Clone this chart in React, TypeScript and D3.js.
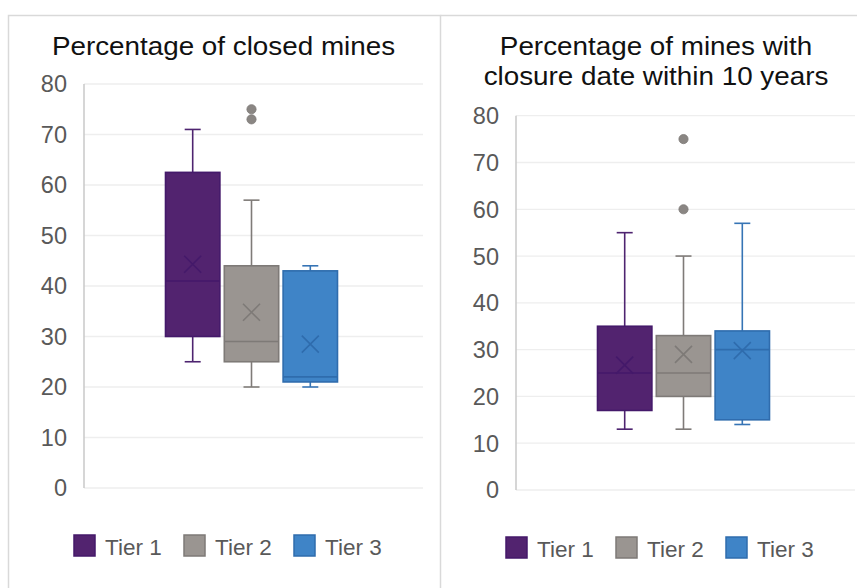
import React from "react";
import * as d3 from "d3";

const tiers = ["Tier 1", "Tier 2", "Tier 3"];
const yTicks = [0, 10, 20, 30, 40, 50, 60, 70, 80];

// Chart 1: Percentage of closed mines
const closedLow = [25, 20, 20];
const closedQ1 = [30, 25, 21];
const closedMedian = [41, 29, 22];
const closedQ3 = [62.5, 44, 43];
const closedHigh = [71, 57, 44];
const closedMean = [44.3, 34.8, 28.5];
const closedOutliers = [[], [75, 73], []];

// Chart 2: Percentage of mines with closure date within 10 years
const soonLow = [13, 13, 14];
const soonQ1 = [17, 20, 15];
const soonMedian = [25, 25, 30];
const soonQ3 = [35, 33, 34];
const soonHigh = [55, 50, 57];
const soonMean = [26.7, 29, 29.8];
const soonOutliers = [[], [75, 60], []];

const fills = ["#52236f", "#9a9591", "#3f84c7"];
const strokes = ["#44196a", "#7e7a77", "#2f6cad"];
const whiskerColors = ["#4e2470", "#7f7b78", "#3674b5"];
const outlierFill = "#8a8683";

const FONT = "'Liberation Sans', Arial, sans-serif";

type PanelProps = {
  title: string[];
  titleX: number;
  titleY: number;
  x0: number;
  x1: number;
  yTop: number;
  yBottom: number;
  low: number[];
  q1: number[];
  median: number[];
  q3: number[];
  high: number[];
  mean: number[];
  outliers: number[][];
  legendX: number;
  legendY: number;
};

function Panel(p: PanelProps) {
  const y = d3.scaleLinear().domain([0, 80]).range([p.yBottom, p.yTop]);
  const cx = (p.x0 + p.x1) / 2 - 2;
  const x = d3
    .scaleBand<string>()
    .domain(tiers)
    .range([cx - 86, cx + 86])
    .paddingInner(0.075)
    .paddingOuter(0);
  const bw = x.bandwidth();
  const cap = 8;
  const xs = 8.5;
  return (
    <g>
      {p.title.map((t, i) => (
        <text
          key={i}
          x={p.titleX}
          y={p.titleY + i * 30.5}
          textAnchor="middle"
          fontFamily={FONT}
          fontSize={26.5}
          fill="#111"
          transform={`translate(${p.titleX},0) scale(1.05,1) translate(${-p.titleX},0)`}
        >
          {t}
        </text>
      ))}
      {yTicks.map((t) => (
        <g key={t}>
          <line x1={p.x0} x2={p.x1} y1={y(t)} y2={y(t)} stroke="#eeeeee" strokeWidth={1.3} />
          <text
            x={p.x0 - 17}
            y={y(t)}
            dy="0.36em"
            textAnchor="end"
            fontFamily={FONT}
            fontSize={23.5}
            fill="#595959"
          >
            {t}
          </text>
        </g>
      ))}
      <line x1={p.x0} x2={p.x0} y1={p.yTop} y2={p.yBottom} stroke="#c8c8c8" strokeWidth={1.5} />
      {tiers.map((tier, i) => {
        const left = x(tier) as number;
        const c = left + bw / 2;
        return (
          <g key={tier}>
            <line x1={c} x2={c} y1={y(p.high[i])} y2={y(p.q3[i])} stroke={whiskerColors[i]} strokeWidth={1.6} />
            <line x1={c} x2={c} y1={y(p.q1[i])} y2={y(p.low[i])} stroke={whiskerColors[i]} strokeWidth={1.6} />
            <line x1={c - cap} x2={c + cap} y1={y(p.high[i])} y2={y(p.high[i])} stroke={whiskerColors[i]} strokeWidth={1.6} />
            <line x1={c - cap} x2={c + cap} y1={y(p.low[i])} y2={y(p.low[i])} stroke={whiskerColors[i]} strokeWidth={1.6} />
            <rect
              x={left}
              y={y(p.q3[i])}
              width={bw}
              height={y(p.q1[i]) - y(p.q3[i])}
              fill={fills[i]}
              stroke={strokes[i]}
              strokeWidth={1.6}
            />
            <line x1={left} x2={left + bw} y1={y(p.median[i])} y2={y(p.median[i])} stroke={strokes[i]} strokeWidth={1.6} />
            <path
              d={`M${c - xs},${y(p.mean[i]) - xs}L${c + xs},${y(p.mean[i]) + xs}M${c - xs},${y(p.mean[i]) + xs}L${c + xs},${y(p.mean[i]) - xs}`}
              stroke={strokes[i]}
              strokeWidth={1.6}
              fill="none"
            />
            {p.outliers[i].map((o, k) => (
              <circle key={k} cx={c} cy={y(o)} r={4.6} fill={outlierFill} stroke="#7e7a77" strokeWidth={0.8} />
            ))}
          </g>
        );
      })}
      {tiers.map((tier, i) => (
        <g key={tier} transform={`translate(${p.legendX + i * 110},${p.legendY})`}>
          <rect x={0} y={0} width={21} height={21} fill={fills[i]} stroke={strokes[i]} strokeWidth={1.5} />
          <text x={31} y={19.5} fontFamily={FONT} fontSize={22.5} fill="#595959">
            {tier}
          </text>
        </g>
      ))}
    </g>
  );
}

export default function App() {
  return (
    <svg
      width={857}
      height={588}
      style={{ position: "fixed", left: 0, top: 0, display: "block", background: "#fff" }}
    >
      <rect x={0} y={0} width={857} height={588} fill="#fff" />
      <path d="M8.5,600V15.5H440.5V600" fill="none" stroke="#d9d9d9" strokeWidth={1.5} />
      <path d="M440.5,15.5H870" fill="none" stroke="#d9d9d9" strokeWidth={1.5} />
      <Panel
        title={["Percentage of closed mines"]}
        titleX={223.5}
        titleY={55}
        x0={84}
        x1={423}
        yTop={84}
        yBottom={488}
        low={closedLow}
        q1={closedQ1}
        median={closedMedian}
        q3={closedQ3}
        high={closedHigh}
        mean={closedMean}
        outliers={closedOutliers}
        legendX={74}
        legendY={535}
      />
      <Panel
        title={["Percentage of mines with", "closure date within 10 years"]}
        titleX={656}
        titleY={55}
        x0={516}
        x1={855}
        yTop={115.7}
        yBottom={490}
        low={soonLow}
        q1={soonQ1}
        median={soonMedian}
        q3={soonQ3}
        high={soonHigh}
        mean={soonMean}
        outliers={soonOutliers}
        legendX={506}
        legendY={537}
      />
    </svg>
  );
}
